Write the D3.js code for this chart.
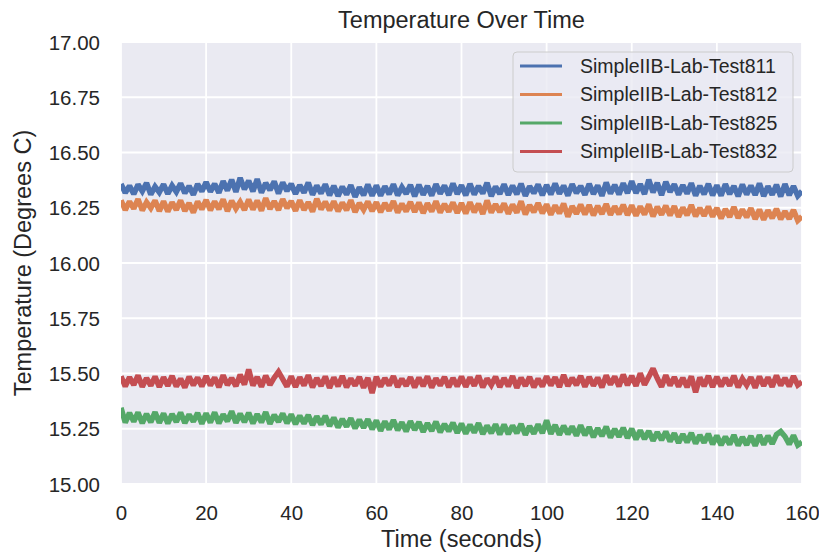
<!DOCTYPE html>
<html><head><meta charset="utf-8">
<script src="https://cdn.jsdelivr.net/npm/d3@7"></script>
<style>
body{margin:0;background:#fff;}
text{font-family:"Liberation Sans",Arial,sans-serif;fill:#262626;}
</style></head>
<body><svg id="c" width="819" height="553"></svg>
<script>
const seriesNames = ["SimpleIIB-Lab-Test811","SimpleIIB-Lab-Test812","SimpleIIB-Lab-Test825","SimpleIIB-Lab-Test832"];
const colors = ["#4C72B0","#DD8452","#55A868","#C44E52"];
const xTicks = [0,20,40,60,80,100,120,140,160];
const yTicks = [15.00,15.25,15.50,15.75,16.00,16.25,16.50,16.75,17.00];

const test811 = [
16.358,16.318,16.349,16.312,16.355,16.325,16.362,16.310,16.346,16.320,
16.356,16.313,16.350,16.322,16.360,16.316,16.348,16.309,16.357,16.324,
16.366,16.323,16.358,16.318,16.370,16.328,16.377,16.322,16.385,16.333,
16.372,16.324,16.380,16.318,16.362,16.330,16.369,16.314,16.364,16.326,
16.358,16.313,16.352,16.318,16.364,16.309,16.350,16.315,16.356,16.306,
16.349,16.303,16.345,16.310,16.352,16.299,16.342,16.307,16.355,16.304,
16.351,16.305,16.347,16.311,16.356,16.306,16.343,16.313,16.353,16.302,
16.354,16.309,16.348,16.305,16.357,16.314,16.350,16.307,16.360,16.312,
16.352,16.306,16.358,16.310,16.348,16.315,16.363,16.303,16.346,16.313,
16.356,16.308,16.350,16.311,16.359,16.304,16.347,16.316,16.355,16.307,
16.353,16.310,16.360,16.313,16.350,16.305,16.357,16.317,16.348,16.309,
16.358,16.312,16.351,16.304,16.364,16.314,16.353,16.310,16.361,16.316,
16.370,16.317,16.357,16.312,16.377,16.320,16.362,16.307,16.367,16.322,
16.356,16.309,16.352,16.314,16.361,16.305,16.349,16.311,16.358,16.306,
16.352,16.305,16.357,16.312,16.348,16.302,16.355,16.310,16.350,16.308,
16.360,16.303,16.347,16.309,16.354,16.301,16.357,16.307,16.348,16.304,
16.325];
const test812 = [
16.284,16.240,16.278,16.246,16.289,16.238,16.275,16.248,16.283,16.235,
16.279,16.233,16.274,16.241,16.283,16.236,16.271,16.228,16.278,16.243,
16.285,16.239,16.278,16.244,16.288,16.235,16.281,16.246,16.276,16.240,
16.287,16.242,16.282,16.237,16.293,16.245,16.279,16.240,16.289,16.248,
16.280,16.236,16.284,16.240,16.275,16.233,16.290,16.243,16.277,16.238,
16.279,16.234,16.273,16.239,16.284,16.230,16.271,16.241,16.278,16.235,
16.275,16.230,16.271,16.237,16.280,16.228,16.268,16.234,16.276,16.231,
16.273,16.226,16.270,16.233,16.279,16.229,16.267,16.232,16.274,16.227,
16.271,16.224,16.275,16.230,16.268,16.222,16.283,16.228,16.266,16.231,
16.269,16.223,16.264,16.228,16.279,16.220,16.262,16.230,16.271,16.225,
16.265,16.219,16.260,16.225,16.269,16.210,16.257,16.223,16.264,16.220,
16.262,16.216,16.258,16.222,16.267,16.218,16.256,16.221,16.263,16.217,
16.261,16.214,16.256,16.220,16.265,16.211,16.254,16.219,16.259,16.216,
16.257,16.209,16.251,16.216,16.262,16.212,16.249,16.214,16.255,16.210,
16.249,16.202,16.244,16.209,16.253,16.204,16.242,16.207,16.248,16.199,
16.242,16.196,16.238,16.203,16.245,16.198,16.234,16.200,16.240,16.192,
16.210];
const test825 = [
15.345,15.278,15.322,15.282,15.324,15.275,15.317,15.280,15.325,15.277,
15.319,15.274,15.316,15.281,15.323,15.276,15.314,15.283,15.321,15.273,
15.320,15.278,15.324,15.275,15.315,15.284,15.329,15.277,15.318,15.280,
15.322,15.274,15.316,15.279,15.325,15.272,15.313,15.282,15.319,15.275,
15.315,15.271,15.309,15.274,15.312,15.267,15.306,15.270,15.308,15.263,
15.300,15.256,15.294,15.260,15.297,15.252,15.291,15.255,15.293,15.248,
15.287,15.241,15.283,15.247,15.289,15.243,15.279,15.238,15.284,15.245,
15.280,15.236,15.275,15.240,15.282,15.234,15.271,15.239,15.277,15.231,
15.273,15.228,15.268,15.233,15.275,15.226,15.264,15.230,15.270,15.224,
15.269,15.226,15.264,15.230,15.272,15.223,15.262,15.228,15.270,15.230,
15.288,15.227,15.267,15.223,15.263,15.226,15.260,15.219,15.265,15.221,
15.257,15.212,15.252,15.217,15.259,15.210,15.249,15.214,15.254,15.208,
15.250,15.202,15.242,15.204,15.239,15.196,15.234,15.199,15.237,15.193,
15.229,15.186,15.225,15.189,15.231,15.183,15.221,15.187,15.227,15.180,
15.219,15.176,15.214,15.179,15.221,15.174,15.212,15.177,15.217,15.173,
15.221,15.178,15.218,15.182,15.224,15.238,15.215,15.180,15.220,15.176,
15.190];
const test832 = [
15.487,15.442,15.483,15.448,15.491,15.440,15.479,15.445,15.486,15.439,
15.483,15.444,15.489,15.441,15.476,15.437,15.485,15.447,15.481,15.442,
15.488,15.446,15.482,15.438,15.492,15.448,15.479,15.443,15.495,15.450,
15.518,15.445,15.484,15.440,15.490,15.449,15.481,15.508,15.475,15.441,
15.487,15.439,15.483,15.446,15.492,15.437,15.479,15.444,15.486,15.435,
15.482,15.442,15.489,15.438,15.477,15.445,15.484,15.436,15.480,15.412,
15.485,15.441,15.479,15.447,15.488,15.439,15.476,15.444,15.483,15.437,
15.481,15.443,15.487,15.436,15.478,15.446,15.484,15.438,15.479,15.442,
15.486,15.440,15.482,15.445,15.490,15.437,15.477,15.448,15.485,15.439,
15.479,15.442,15.488,15.435,15.481,15.444,15.484,15.438,15.476,15.441,
15.487,15.446,15.483,15.439,15.493,15.443,15.480,15.448,15.489,15.440,
15.484,15.445,15.481,15.437,15.491,15.450,15.486,15.442,15.495,15.447,
15.489,15.444,15.501,15.449,15.485,15.522,15.478,15.440,15.492,15.446,
15.483,15.441,15.480,15.438,15.487,15.415,15.482,15.443,15.489,15.439,
15.485,15.442,15.479,15.445,15.490,15.438,15.476,15.447,15.483,15.436,
15.486,15.444,15.482,15.440,15.491,15.446,15.479,15.442,15.488,15.448,
15.462];
const seriesValues = [test811, test812, test825, test832];
const times = test811.map((_, i) => i); // one sample per second

const L = 121, R = 802, T = 42, B = 484;
const svg = d3.select("#c");
const x = d3.scaleLinear().domain([0,160]).range([L,R]);
const y = d3.scaleLinear().domain([15,17]).range([B,T]);

svg.append("rect").attr("x",L).attr("y",T).attr("width",R-L).attr("height",B-T).attr("fill","#EAEAF2");

// grid
svg.append("g").selectAll("line").data(xTicks).join("line")
  .attr("x1",d=>x(d)).attr("x2",d=>x(d)).attr("y1",T).attr("y2",B)
  .attr("stroke","#fff").attr("stroke-width",1.8);
svg.append("g").selectAll("line").data(yTicks).join("line")
  .attr("x1",L).attr("x2",R).attr("y1",d=>y(d)).attr("y2",d=>y(d))
  .attr("stroke","#fff").attr("stroke-width",1.8);

// axes (labels only)
const xAxis = svg.append("g").attr("transform",`translate(0,${B})`)
  .call(d3.axisBottom(x).tickValues(xTicks).tickSize(0).tickPadding(36).tickFormat(d3.format("d")));
const yAxis = svg.append("g").attr("transform",`translate(${L},0)`)
  .call(d3.axisLeft(y).tickValues(yTicks).tickSize(0).tickPadding(21).tickFormat(d3.format(".2f")));
[xAxis,yAxis].forEach(a=>{
  a.select(".domain").remove();
  a.selectAll("text").attr("font-size",20.5).attr("fill","#262626")
   .attr("font-family","'Liberation Sans',Arial,sans-serif");
});
xAxis.selectAll("text").attr("dy","0");
yAxis.selectAll("text").attr("dy","0.35em");

svg.append("clipPath").attr("id","clip").append("rect")
  .attr("x",L).attr("y",T).attr("width",R-L).attr("height",B-T);

const line = d3.line().x((d,i)=>x(times[i])).y(d=>y(d));
svg.append("g").attr("clip-path","url(#clip)").selectAll("path").data(seriesValues).join("path")
  .attr("d",line).attr("fill","none").attr("stroke",(d,i)=>colors[i])
  .attr("stroke-width",5.5).attr("stroke-linejoin","miter").attr("stroke-miterlimit",2);

// title & labels
svg.append("text").attr("x",(L+R)/2).attr("y",28).attr("text-anchor","middle")
  .attr("font-size",23.5).text("Temperature Over Time");
svg.append("text").attr("x",(L+R)/2).attr("y",547).attr("text-anchor","middle")
  .attr("font-size",23.5).text("Time (seconds)");
svg.append("text").attr("transform",`translate(31,${(T+B)/2}) rotate(-90)`).attr("text-anchor","middle")
  .attr("font-size",23.5).text("Temperature (Degrees C)");

// legend
const lg = svg.append("g");
lg.append("rect").attr("x",513).attr("y",52).attr("width",280).attr("height",120).attr("rx",4)
  .attr("fill","#EAEAF2").attr("fill-opacity",0.8).attr("stroke","#cccccc").attr("stroke-width",1);
const items = lg.selectAll("g.item").data(seriesNames).join("g").attr("class","item")
  .attr("transform",(d,i)=>`translate(0,${66+i*28.5})`);
items.append("line").attr("x1",520).attr("x2",562).attr("stroke",(d,i)=>colors[i]).attr("stroke-width",3);
items.append("text").attr("x",580).attr("dy","0.35em").attr("font-size",19.5).text(d=>d);
</script></body></html>
